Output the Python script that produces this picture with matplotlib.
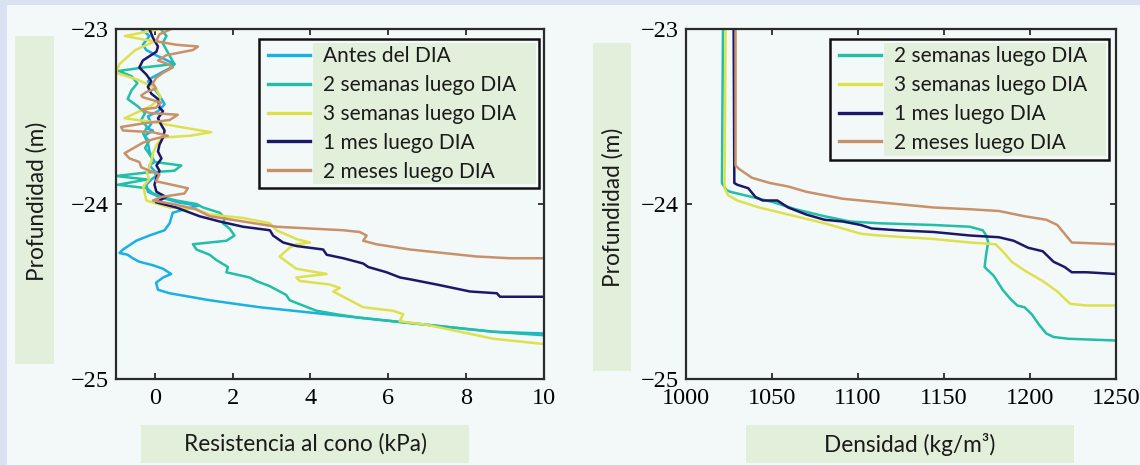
import matplotlib
matplotlib.use('Agg')
import matplotlib.pyplot as plt
from matplotlib.patches import Rectangle

W, H = 1140, 465
BG = '#f3f8f9'
GREEN = '#e2efda'
STRIP = '#dae1f2'
SANS = ['Lato', 'DejaVu Sans']

# --- left panel: cone resistance (kPa) vs depth (m) ---
cone_labels = ['Antes del DIA', '2 semanas luego DIA', '3 semanas luego DIA',
               '1 mes luego DIA', '2 meses luego DIA']
cone_colors = ['#19b1e3', '#22bfa6', '#dde24c', '#1b1869', '#c9916a']

antes_kpa = [-0.35, -0.14, -0.31, -0.22, 0.03, 0.51, 0.42, 0.16, -0.09, -0.18, -0.05, 0.12,
             0.25, 0.08, -0.18, -0.09, -0.18, -0.05, -0.27, -0.18, -0.14, -0.01, -0.14, -0.01,
             0.03, -0.09, -0.22, -0.18, 0.12, 0.59, 1.11, 0.77, 0.46, 0.38, 0.25, -0.14, -0.48,
             -0.82, -0.91, -0.70, -0.57, -0.40, -0.05, 0.21, 0.42, 0.21, 0.03, 0.08, 0.38, 1.41,
             2.70, 3.99, 4.85, 6.13, 7.42, 8.71, 10.0]
antes_depth = [-23.00, -23.04, -23.09, -23.12, -23.15, -23.20, -23.22, -23.25, -23.28, -23.30,
               -23.33, -23.38, -23.43, -23.47, -23.50, -23.54, -23.57, -23.58, -23.61, -23.65,
               -23.70, -23.76, -23.78, -23.81, -23.84, -23.86, -23.89, -23.93, -23.96, -23.99,
               -24.01, -24.03, -24.05, -24.11, -24.15, -24.18, -24.21, -24.26, -24.28, -24.29,
               -24.31, -24.33, -24.35, -24.37, -24.40, -24.42, -24.45, -24.49, -24.51, -24.55,
               -24.59, -24.62, -24.64, -24.67, -24.70, -24.73, -24.74]

sem2_kpa = [0.15, 0.30, 0.20, 0.30, 0.50, -0.30, -0.93, -0.60, -0.45, -0.60, -0.70, -0.45,
            -0.25, -0.35, -0.20, -0.30, -0.15, -0.25, -0.10, 0.00, 0.68, 0.50, -0.20, -1.00,
            -0.20, -0.95, -0.20, -0.05, 0.20, 0.55, 1.07, 1.24, 1.67, 1.80, 1.75, 1.92, 2.05,
            1.84, 0.98, 1.07, 1.41, 1.58, 1.88, 1.84, 2.44, 2.61, 2.96, 3.13, 3.38, 3.47, 3.81,
            4.16, 4.67, 5.27, 6.13, 7.42, 8.71, 10.0]
sem2_depth = [-23.00, -23.04, -23.08, -23.12, -23.20, -23.22, -23.24, -23.27, -23.31, -23.35,
              -23.40, -23.44, -23.48, -23.52, -23.56, -23.60, -23.64, -23.68, -23.73, -23.76,
              -23.78, -23.81, -23.82, -23.84, -23.86, -23.89, -23.91, -23.94, -23.96, -23.98,
              -24.00, -24.02, -24.05, -24.08, -24.11, -24.14, -24.18, -24.21, -24.23, -24.26,
              -24.29, -24.32, -24.36, -24.39, -24.42, -24.44, -24.47, -24.49, -24.52, -24.55,
              -24.58, -24.61, -24.63, -24.65, -24.67, -24.70, -24.73, -24.75]

sem3_kpa = [0.15, -0.77, -0.30, 0.00, -0.50, -0.91, -1.00, -0.44, 0.03, 0.15, -0.10, -0.78,
            -0.10, 0.40, 1.45, 0.90, 0.20, 0.05, -0.05, -0.10, -0.20, -0.15, -0.30, -0.25,
            -0.22, 0.38, 1.07, 1.41, 2.27, 2.96, 3.13, 3.64, 3.99, 3.64, 3.47, 3.21, 3.39, 3.64,
            4.42, 3.64, 3.73, 4.50, 4.76, 4.59, 4.85, 5.19, 5.36, 6.13, 6.39, 6.30, 6.99, 7.85,
            8.71, 10.0]
sem3_depth = [-23.00, -23.04, -23.06, -23.07, -23.12, -23.20, -23.25, -23.29, -23.34, -23.39,
              -23.44, -23.51, -23.53, -23.55, -23.59, -23.61, -23.62, -23.66, -23.71, -23.76,
              -23.82, -23.86, -23.90, -23.95, -23.98, -24.02, -24.03, -24.06, -24.08, -24.11,
              -24.15, -24.20, -24.22, -24.23, -24.25, -24.30, -24.33, -24.37, -24.40, -24.42,
              -24.44, -24.46, -24.48, -24.50, -24.53, -24.57, -24.59, -24.61, -24.63, -24.67,
              -24.69, -24.73, -24.77, -24.80]

mes1_kpa = [-0.14, -0.05, 0.08, 0.04, -0.31, -0.40, -0.22, -0.09, -0.18, -0.09, 0.08, 0.12,
            0.21, 0.08, 0.17, 0.25, 0.21, 0.12, 0.08, 0.17, 0.04, 0.12, 0.04, -0.01, 0.04, 0.29,
            0.03, 0.55, 1.15, 1.67, 2.27, 2.96, 3.04, 3.30, 3.64, 4.33, 4.42, 4.85, 5.36, 5.49,
            5.96, 6.31, 6.56, 7.25, 8.11, 8.80, 8.88, 10.0]
mes1_depth = [-23.00, -23.05, -23.10, -23.13, -23.18, -23.22, -23.26, -23.30, -23.33, -23.37,
              -23.40, -23.45, -23.47, -23.51, -23.55, -23.58, -23.62, -23.66, -23.70, -23.74,
              -23.78, -23.81, -23.85, -23.89, -23.93, -23.96, -23.99, -24.02, -24.07, -24.10,
              -24.13, -24.15, -24.18, -24.22, -24.24, -24.26, -24.29, -24.31, -24.34, -24.36,
              -24.39, -24.42, -24.43, -24.46, -24.50, -24.51, -24.53, -24.53]

mes2_kpa = [0.42, 0.12, 0.03, 0.55, 1.11, 0.98, 0.29, 0.08, 0.33, 0.46, 0.21, 0.03, -0.05,
            0.03, -0.22, -0.35, -0.31, 0.16, 0.03, -0.35, -0.14, 0.59, 0.38, -0.31, -0.87, -0.82,
            -0.05, 0.33, -0.05, -0.31, -0.78, -0.65, -0.40, -0.35, -0.14, 0.12, 0.03, 0.85, 0.76,
            0.16, -0.05, 0.46, 1.06, 1.41, 2.27, 3.13, 3.99, 4.85, 5.27, 5.45, 5.36, 5.70, 6.56,
            7.42, 8.28, 9.14, 10.0]
mes2_depth = [-23.00, -23.03, -23.07, -23.09, -23.10, -23.12, -23.15, -23.18, -23.20, -23.22,
              -23.25, -23.28, -23.31, -23.34, -23.36, -23.38, -23.39, -23.42, -23.45, -23.46,
              -23.48, -23.49, -23.52, -23.54, -23.56, -23.58, -23.59, -23.61, -23.63, -23.65,
              -23.71, -23.74, -23.76, -23.79, -23.81, -23.83, -23.87, -23.91, -23.94, -23.96,
              -23.98, -24.00, -24.03, -24.07, -24.10, -24.13, -24.14, -24.15, -24.16, -24.18,
              -24.21, -24.23, -24.26, -24.28, -24.30, -24.31, -24.31]

# --- right panel: density (kg/m3) vs depth (m) ---
dens_labels = ['2 semanas luego DIA', '3 semanas luego DIA', '1 mes luego DIA', '2 meses luego DIA']
dens_colors = cone_colors[1:]

sem2_dens = [1021.5, 1020.9, 1023.5, 1025.6, 1038.3, 1050.9, 1063.7, 1080.5, 1095.3, 1112.3,
             1144.0, 1165.1, 1172.5, 1174.6, 1175.7, 1174.6, 1173.6, 1175.7, 1178.9, 1184.1,
             1188.4, 1192.6, 1196.8, 1201.0, 1205.3, 1209.5, 1213.7, 1222.2, 1250.0]
sem2_ddepth = [-23.00, -23.88, -23.92, -23.93, -23.96, -23.99, -24.03, -24.07, -24.10, -24.11,
               -24.12, -24.13, -24.15, -24.18, -24.22, -24.28, -24.36, -24.38, -24.41, -24.49,
               -24.54, -24.58, -24.59, -24.63, -24.69, -24.74, -24.76, -24.77, -24.78]

sem3_dens = [1023.0, 1022.4, 1024.5, 1029.8, 1042.5, 1059.4, 1080.5, 1101.7, 1112.3, 1144.0,
             1165.1, 1180.0, 1184.1, 1189.4, 1196.8, 1207.4, 1215.9, 1223.3, 1232.8, 1250.0]
sem3_ddepth = [-23.00, -23.91, -23.95, -23.98, -24.02, -24.06, -24.11, -24.17, -24.18, -24.20,
               -24.22, -24.23, -24.27, -24.33, -24.38, -24.44, -24.50, -24.57, -24.58, -24.58]

mes1_dens = [1027.7, 1028.1, 1029.8, 1036.2, 1040.4, 1044.6, 1053.1, 1059.4, 1069.9, 1080.5,
             1091.1, 1101.7, 1108.0, 1122.8, 1144.0, 1165.1, 1182.0, 1190.5, 1198.9, 1207.4,
             1213.7, 1220.1, 1224.3, 1232.8, 1250.0]
mes1_ddepth = [-23.00, -23.88, -23.89, -23.91, -23.96, -23.98, -23.98, -24.02, -24.06, -24.09,
               -24.10, -24.12, -24.14, -24.15, -24.16, -24.18, -24.19, -24.21, -24.25, -24.27,
               -24.33, -24.36, -24.39, -24.39, -24.40]

mes2_dens = [1028.8, 1028.8, 1030.9, 1038.3, 1048.8, 1059.4, 1069.9, 1080.5, 1091.1, 1101.7,
             1122.8, 1144.0, 1165.1, 1182.0, 1196.8, 1209.5, 1215.9, 1220.1, 1224.3, 1250.0]
mes2_ddepth = [-23.00, -23.78, -23.80, -23.85, -23.88, -23.90, -23.93, -23.95, -23.97, -23.98,
               -24.00, -24.02, -24.03, -24.04, -24.07, -24.09, -24.12, -24.17, -24.22, -24.23]

cone_series = [(antes_kpa, antes_depth), (sem2_kpa, sem2_depth), (sem3_kpa, sem3_depth),
               (mes1_kpa, mes1_depth), (mes2_kpa, mes2_depth)]
dens_series = [(sem2_dens, sem2_ddepth), (sem3_dens, sem3_ddepth),
               (mes1_dens, mes1_ddepth), (mes2_dens, mes2_ddepth)]

cone_xticks = [0, 2, 4, 6, 8, 10]
dens_xticks = [1000, 1050, 1100, 1150, 1200, 1250]
depth_ticks = [-23, -24, -25]


def px_rect(x0, y0, x1, y1, color):
    # pixel box (from top-left) -> figure rectangle
    return Rectangle((x0 / W, 1 - y1 / H), (x1 - x0) / W, (y1 - y0) / H,
                     transform=fig.transFigure, facecolor=color, edgecolor='none', zorder=0)


fig = plt.figure(figsize=(W / 100, H / 100), dpi=100, facecolor=BG)

# background decorations: strips and label boxes
for box in [(0, 0, W, 5), (0, 0, 6.5, H)]:
    fig.add_artist(px_rect(*box, STRIP))
for box in [(14.5, 36, 54, 364), (592.5, 43, 631, 371), (141, 425, 469, 463), (746, 425, 1074, 463)]:
    fig.add_artist(px_rect(*box, GREEN))

ax1 = fig.add_axes([116 / W, 1 - 379 / H, 427.5 / W, 350 / H])
ax2 = fig.add_axes([686 / W, 1 - 379 / H, 430 / W, 350 / H])

for (x, d), c, lab in zip(cone_series, cone_colors, cone_labels):
    ax1.plot(x, d, color=c, lw=1.8, label=lab)
for (x, d), c, lab in zip(dens_series, dens_colors, dens_labels):
    ax2.plot(x, d, color=c, lw=1.8, label=lab)

ax1.set_xlim(-1, 10)
ax1.set_xticks(cone_xticks)
ax2.set_xlim(1000, 1250)
ax2.set_xticks(dens_xticks)

legends = []
for ax in (ax1, ax2):
    ax.set_ylim(-25, -23)
    ax.set_yticks(depth_ticks)
    ax.set_facecolor(BG)
    for s in ax.spines.values():
        s.set_linewidth(1.6)
        s.set_color('#2a2a2a')
    ax.tick_params(direction='in', top=True, right=True, length=4, width=1.3,
                   color='#2a2a2a', labelsize=17.5, pad=5,
                   labelfontfamily='Liberation Serif')
    ax.tick_params(axis='x', pad=6.5)
    leg = ax.legend(loc='upper left', bbox_to_anchor=(0.356, 0.95), frameon=False,
                    borderpad=0, borderaxespad=0, handlelength=2.0, handletextpad=0.65,
                    labelspacing=0.42, prop={'family': SANS, 'size': 15})
    for h in leg.legend_handles:
        h.set_linewidth(2.4)
    for t in leg.get_texts():
        t.set_color('#1a1a1a')
    legends.append(leg)

# axis titles sit in their own green boxes
label_kw = dict(ha='center', va='center', family=SANS, fontsize=16.3, color='#1a1a1a')
fig.text(36.4 / W, 1 - 201 / H, 'Profundidad (m)', rotation=90, **label_kw)
fig.text(612.7 / W, 1 - 207.5 / H, 'Profundidad (m)', rotation=90, **label_kw)
fig.text(305 / W, 1 - 444 / H, 'Resistencia al cono (kPa)', **label_kw)
fig.text(909.5 / W, 1 - 444 / H, 'Densidad (kg/m³)', **label_kw)

# legend frame + green panel behind the legend text
fig.canvas.draw()
r = fig.canvas.get_renderer()
for ax, leg in zip((ax1, ax2), legends):
    bb = leg.get_window_extent(r)
    tb = [t.get_window_extent(r) for t in leg.get_texts()]
    tx0 = min(b.x0 for b in tb)
    tx1 = max(b.x1 for b in tb)
    inv = ax.transAxes.inverted()
    fx0, fy0 = inv.transform((bb.x0 - 9, bb.y0 - 7))
    fx1, fy1 = inv.transform((tx1 + 22, bb.y1 + 7))
    ax.add_patch(Rectangle((fx0, fy0), fx1 - fx0, fy1 - fy0, transform=ax.transAxes,
                           facecolor=BG, edgecolor='#111111', lw=1.8, zorder=4))
    gx0, gy0 = inv.transform((tx0 - 10, bb.y0 - 3))
    gx1, gy1 = inv.transform((tx1 + 19, bb.y1 + 3))
    ax.add_patch(Rectangle((gx0, gy0), gx1 - gx0, gy1 - gy0, transform=ax.transAxes,
                           facecolor=GREEN, edgecolor='none', zorder=4.5))

fig.savefig('out.png', dpi=100, facecolor=BG)
